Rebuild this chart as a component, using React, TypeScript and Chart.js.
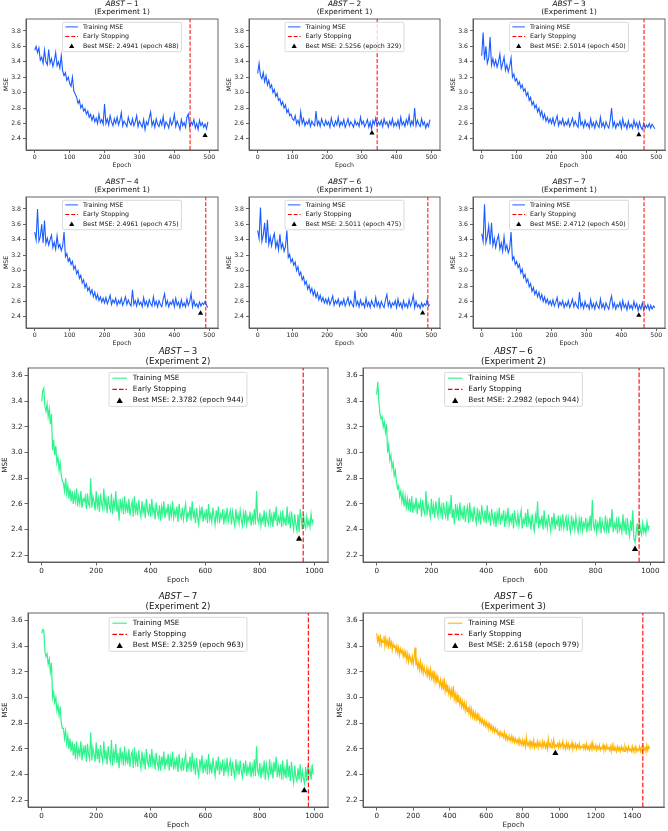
import React, { useEffect, useRef } from 'react';
import { Chart, registerables } from 'chart.js';

Chart.register(...registerables);

const FONT = '"DejaVu Sans", "Liberation Sans", sans-serif';
Chart.defaults.font.family = FONT;

// ---------- data ----------
const STEP_E1 = 4; // epochs between samples, Experiment 1 panels
const STEP_E2 = 4; // Experiment 2 panels
const STEP_E3 = 5; // Experiment 3 panel

const abst1Exp1 = [
  3.55, 3.6, 3.52, 3.58, 3.42, 3.46, 3.38, 3.55, 3.4, 3.36,
  3.56, 3.38, 3.44, 3.34, 3.41, 3.52, 3.35, 3.4, 3.32, 3.48,
  3.28, 3.22, 3.26, 3.16, 3.2, 3.12, 3.08, 3.2, 3.02, 2.98,
  2.94, 2.86, 2.9, 2.8, 2.84, 2.76, 2.79, 2.72, 2.76, 2.68,
  2.72, 2.64, 2.7, 2.62, 2.67, 2.6, 2.72, 2.61, 2.65, 2.59,
  2.85, 2.6, 2.66, 2.58, 2.7, 2.62, 2.57, 2.66, 2.6, 2.68,
  2.58, 2.64, 2.74, 2.57, 2.63, 2.6, 2.56, 2.68, 2.61, 2.58,
  2.66, 2.57, 2.62, 2.7, 2.56, 2.63, 2.59, 2.55, 2.65, 2.52,
  2.62, 2.58, 2.67, 2.75, 2.57, 2.63, 2.55, 2.66, 2.59, 2.56,
  2.64, 2.58, 2.69, 2.55, 2.62, 2.59, 2.54, 2.66, 2.58, 2.62,
  2.72, 2.56, 2.63, 2.58, 2.52, 2.65, 2.57, 2.61, 2.55, 2.68,
  2.72, 2.55, 2.62, 2.58, 2.65, 2.54, 2.6, 2.52, 2.64, 2.57,
  2.61, 2.55, 2.59, 2.53, 2.62,
];

const abst2Exp1 = [
  3.25, 3.38, 3.22, 3.18, 3.26, 3.14, 3.22, 3.1, 3.16, 3.06,
  3.1, 3.0, 3.04, 2.95, 2.99, 2.9, 2.92, 2.84, 2.88, 2.8,
  2.84, 2.74, 2.78, 2.7, 2.72, 2.66, 2.64, 2.7, 2.6, 2.64,
  2.58, 2.75, 2.6, 2.66, 2.57, 2.62, 2.59, 2.65, 2.56, 2.63,
  2.59, 2.57, 2.76, 2.58, 2.63, 2.56, 2.66, 2.6, 2.57, 2.64,
  2.58, 2.62, 2.55, 2.67, 2.59, 2.56, 2.63, 2.58, 2.68, 2.56,
  2.62, 2.58, 2.65, 2.55, 2.6, 2.66, 2.57, 2.62, 2.59, 2.55,
  2.64, 2.58, 2.61, 2.56, 2.68, 2.59, 2.63, 2.56, 2.6, 2.65,
  2.55, 2.62, 2.53, 2.64, 2.59, 2.67, 2.57, 2.62, 2.58, 2.64,
  2.56, 2.66, 2.59, 2.62, 2.55, 2.63, 2.58, 2.66, 2.56, 2.61,
  2.57, 2.64, 2.55, 2.68, 2.58, 2.62, 2.56, 2.65, 2.59, 2.7,
  2.57, 2.63, 2.58, 2.8, 2.57, 2.64, 2.59, 2.56, 2.66, 2.58,
  2.62, 2.54, 2.6, 2.56, 2.65,
];

const abst3Exp1 = [
  3.48, 3.78, 3.42, 3.6, 3.38, 3.45, 3.72, 3.36, 3.44, 3.35,
  3.42, 3.33, 3.4, 3.5, 3.31, 3.38, 3.46, 3.29, 3.36, 3.27,
  3.34, 3.45, 3.2, 3.24, 3.15, 3.18, 3.1, 3.14, 3.06, 3.1,
  3.02, 3.05, 2.96, 3.0, 2.9, 2.94, 2.84, 2.88, 2.8, 2.84,
  2.75, 2.8, 2.7, 2.76, 2.66, 2.72, 2.63, 2.68, 2.61, 2.66,
  2.6, 2.67, 2.58, 2.64, 2.7, 2.57, 2.63, 2.59, 2.66, 2.57,
  2.62, 2.58, 2.65, 2.56, 2.61, 2.67, 2.57, 2.63, 2.58, 2.55,
  2.75, 2.58, 2.62, 2.55, 2.64, 2.57, 2.6, 2.54, 2.66, 2.56,
  2.61, 2.54, 2.63, 2.58, 2.55, 2.68, 2.56, 2.61, 2.54, 2.62,
  2.57, 2.54, 2.64, 2.8, 2.56, 2.62, 2.54, 2.6, 2.57, 2.63,
  2.54, 2.66, 2.56, 2.6, 2.53, 2.63, 2.55, 2.59, 2.54, 2.64,
  2.56, 2.61, 2.53, 2.62, 2.55, 2.52, 2.6, 2.54, 2.58, 2.55,
  2.6, 2.54, 2.59, 2.56, 2.53,
];

const abst4Exp1 = [
  3.5, 3.4, 3.8, 3.38, 3.44, 3.6, 3.36, 3.65, 3.35, 3.42,
  3.33, 3.4, 3.46, 3.3, 3.37, 3.28, 3.45, 3.3, 3.34, 3.26,
  3.32, 3.5, 3.18, 3.22, 3.12, 3.16, 3.08, 3.12, 3.02, 3.06,
  2.96, 3.0, 2.9, 2.94, 2.84, 2.88, 2.78, 2.83, 2.74, 2.78,
  2.7, 2.75, 2.66, 2.72, 2.63, 2.69, 2.61, 2.66, 2.59, 2.64,
  2.58, 2.65, 2.57, 2.62, 2.68, 2.56, 2.62, 2.58, 2.64, 2.55,
  2.61, 2.57, 2.64, 2.55, 2.6, 2.66, 2.56, 2.62, 2.57, 2.54,
  2.75, 2.56, 2.61, 2.54, 2.63, 2.56, 2.59, 2.53, 2.65, 2.55,
  2.6, 2.53, 2.62, 2.57, 2.54, 2.66, 2.55, 2.6, 2.53, 2.61,
  2.56, 2.53, 2.63, 2.7, 2.55, 2.61, 2.53, 2.59, 2.56, 2.62,
  2.53, 2.64, 2.55, 2.59, 2.52, 2.62, 2.54, 2.58, 2.53, 2.63,
  2.55, 2.6, 2.7, 2.53, 2.61, 2.54, 2.57, 2.52, 2.59, 2.54,
  2.58, 2.56, 2.6, 2.55, 2.52,
];

const abst6Exp1 = [
  3.52, 3.42, 3.82, 3.38, 3.46, 3.62, 3.36, 3.66, 3.34, 3.44,
  3.32, 3.42, 3.48, 3.3, 3.38, 3.27, 3.47, 3.29, 3.35, 3.25,
  3.31, 3.52, 3.17, 3.21, 3.11, 3.15, 3.07, 3.11, 3.0, 3.05,
  2.94, 2.98, 2.88, 2.92, 2.82, 2.86, 2.76, 2.81, 2.72, 2.77,
  2.68, 2.74, 2.65, 2.71, 2.62, 2.68, 2.6, 2.65, 2.58, 2.63,
  2.57, 2.64, 2.56, 2.61, 2.67, 2.55, 2.61, 2.57, 2.63, 2.54,
  2.6, 2.56, 2.63, 2.54, 2.59, 2.65, 2.55, 2.61, 2.56, 2.53,
  2.74, 2.55, 2.6, 2.53, 2.62, 2.55, 2.58, 2.52, 2.64, 2.54,
  2.59, 2.52, 2.61, 2.56, 2.53, 2.65, 2.54, 2.59, 2.52, 2.6,
  2.55, 2.52, 2.62, 2.69, 2.54, 2.6, 2.52, 2.58, 2.55, 2.61,
  2.52, 2.63, 2.54, 2.58, 2.51, 2.61, 2.53, 2.57, 2.52, 2.62,
  2.54, 2.59, 2.68, 2.52, 2.6, 2.53, 2.56, 2.51, 2.58, 2.53,
  2.57, 2.55, 2.62, 2.54, 2.56,
];

const abst7Exp1 = [
  3.48, 3.38, 3.86, 3.36, 3.44, 3.58, 3.34, 3.62, 3.33, 3.42,
  3.3, 3.4, 3.46, 3.28, 3.36, 3.25, 3.44, 3.27, 3.33, 3.23,
  3.29, 3.5, 3.14, 3.18, 3.08, 3.12, 3.04, 3.08, 2.97, 3.02,
  2.91, 2.95, 2.85, 2.89, 2.79, 2.83, 2.73, 2.78, 2.69, 2.74,
  2.66, 2.72, 2.63, 2.69, 2.6, 2.66, 2.58, 2.63, 2.56, 2.61,
  2.55, 2.62, 2.54, 2.59, 2.65, 2.53, 2.59, 2.55, 2.61, 2.52,
  2.58, 2.54, 2.61, 2.52, 2.57, 2.63, 2.53, 2.59, 2.54, 2.51,
  2.72, 2.53, 2.58, 2.51, 2.6, 2.53, 2.56, 2.5, 2.62, 2.52,
  2.57, 2.5, 2.59, 2.54, 2.51, 2.63, 2.52, 2.57, 2.5, 2.58,
  2.53, 2.5, 2.6, 2.67, 2.52, 2.58, 2.5, 2.56, 2.53, 2.59,
  2.5, 2.61, 2.52, 2.56, 2.49, 2.59, 2.51, 2.55, 2.5, 2.6,
  2.52, 2.57, 2.48, 2.55, 2.5, 2.58, 2.49, 2.55, 2.51, 2.56,
  2.49, 2.55, 2.5, 2.54, 2.52,
];

const abst3Exp2 = [
  3.4, 3.48, 3.5, 3.36, 3.32, 3.38, 3.28, 3.34, 3.22, 3.3,
  3.02, 3.1, 2.98, 3.05, 2.92, 2.96, 2.86, 2.92, 2.82, 2.78,
  2.76, 2.7, 2.8, 2.68, 2.74, 2.64, 2.72, 2.62, 2.7, 2.6,
  2.68, 2.62, 2.72, 2.58, 2.66, 2.6, 2.7, 2.57, 2.64, 2.62,
  2.66, 2.56, 2.68, 2.6, 2.58, 2.8, 2.57, 2.66, 2.62, 2.55,
  2.7, 2.58, 2.64, 2.54, 2.68, 2.6, 2.56, 2.72, 2.58, 2.64,
  2.53, 2.66, 2.59, 2.55, 2.68, 2.52, 2.62, 2.57, 2.7, 2.54,
  2.6, 2.47, 2.64, 2.56, 2.62, 2.52, 2.66, 2.55, 2.6, 2.53,
  2.64, 2.51, 2.58, 2.62, 2.5, 2.66, 2.54, 2.59, 2.51, 2.63,
  2.55, 2.5, 2.62, 2.53, 2.58, 2.49, 2.64, 2.55, 2.52, 2.6,
  2.5, 2.64, 2.53, 2.57, 2.48, 2.61, 2.54, 2.5, 2.59, 2.47,
  2.58, 2.52, 2.62, 2.49, 2.56, 2.53, 2.6, 2.47, 2.57, 2.51,
  2.62, 2.49, 2.55, 2.51, 2.58, 2.46, 2.6, 2.52, 2.49, 2.57,
  2.48, 2.55, 2.6, 2.46, 2.53, 2.5, 2.58, 2.47, 2.62, 2.5,
  2.54, 2.45, 2.57, 2.49, 2.44, 2.56, 2.5, 2.58, 2.46, 2.53,
  2.49, 2.56, 2.45, 2.6, 2.48, 2.52, 2.46, 2.57, 2.5, 2.44,
  2.55, 2.48, 2.58, 2.45, 2.52, 2.49, 2.56, 2.44, 2.53, 2.47,
  2.57, 2.46, 2.51, 2.55, 2.44, 2.54, 2.48, 2.43, 2.56, 2.47,
  2.52, 2.45, 2.55, 2.48, 2.43, 2.53, 2.46, 2.55, 2.44, 2.5,
  2.47, 2.54, 2.43, 2.51, 2.46, 2.56, 2.44, 2.7, 2.48, 2.45,
  2.53, 2.43, 2.5, 2.46, 2.55, 2.42, 2.52, 2.47, 2.44, 2.56,
  2.45, 2.51, 2.42, 2.54, 2.47, 2.58, 2.43, 2.5, 2.46, 2.52,
  2.42, 2.55, 2.45, 2.49, 2.43, 2.58, 2.44, 2.51, 2.41, 2.54,
  2.46, 2.4, 2.52, 2.44, 2.39, 2.52, 2.38, 2.56, 2.49, 2.4,
  2.52, 2.44, 2.41, 2.5, 2.43, 2.47, 2.42, 2.52, 2.45, 2.48,
];

const abst6Exp2 = [
  3.45, 3.55, 3.4, 3.3, 3.26, 3.28, 3.2, 3.24, 3.16, 3.22,
  3.0, 3.06, 2.94, 2.98, 2.88, 2.92, 2.82, 2.86, 2.78, 2.72,
  2.74, 2.66, 2.7, 2.62, 2.68, 2.58, 2.66, 2.57, 2.64, 2.55,
  2.64, 2.54, 2.66, 2.53, 2.6, 2.56, 2.65, 2.52, 2.6, 2.57,
  2.62, 2.5, 2.63, 2.55, 2.52, 2.7, 2.51, 2.6, 2.56, 2.5,
  2.64, 2.52, 2.59, 2.49, 2.62, 2.55, 2.5, 2.65, 2.52, 2.58,
  2.48, 2.61, 2.54, 2.5, 2.62, 2.47, 2.58, 2.52, 2.67, 2.49,
  2.56, 2.44, 2.6, 2.51, 2.57, 2.47, 2.61, 2.5, 2.55, 2.48,
  2.59, 2.46, 2.54, 2.58, 2.45, 2.61, 2.49, 2.54, 2.46, 2.58,
  2.5, 2.45, 2.57, 2.48, 2.53, 2.44, 2.59, 2.5, 2.47, 2.55,
  2.45, 2.59, 2.48, 2.52, 2.43, 2.56, 2.49, 2.45, 2.54, 2.42,
  2.53, 2.47, 2.57, 2.44, 2.51, 2.48, 2.55, 2.42, 2.52, 2.46,
  2.57, 2.44, 2.5, 2.46, 2.53, 2.41, 2.55, 2.47, 2.44, 2.52,
  2.43, 2.5, 2.55, 2.41, 2.48, 2.45, 2.53, 2.42, 2.56, 2.45,
  2.49, 2.4, 2.52, 2.44, 2.39, 2.51, 2.45, 2.62, 2.41, 2.48,
  2.44, 2.51, 2.4, 2.55, 2.43, 2.47, 2.41, 2.52, 2.45, 2.39,
  2.5, 2.43, 2.53, 2.4, 2.47, 2.44, 2.51, 2.39, 2.48, 2.42,
  2.52, 2.41, 2.46, 2.5, 2.39, 2.49, 2.43, 2.38, 2.51, 2.42,
  2.47, 2.4, 2.5, 2.43, 2.38, 2.48, 2.41, 2.5, 2.39, 2.45,
  2.42, 2.49, 2.38, 2.46, 2.41, 2.51, 2.39, 2.63, 2.43, 2.4,
  2.48, 2.38, 2.45, 2.41, 2.5, 2.37, 2.47, 2.42, 2.39, 2.51,
  2.4, 2.46, 2.37, 2.49, 2.42, 2.56, 2.38, 2.45, 2.41, 2.47,
  2.37, 2.5, 2.4, 2.44, 2.38, 2.52, 2.39, 2.46, 2.36, 2.49,
  2.41, 2.35, 2.47, 2.39, 2.55, 2.33, 2.3, 2.37, 2.45, 2.35,
  2.47, 2.39, 2.36, 2.45, 2.38, 2.42, 2.37, 2.46, 2.4, 2.43,
];

const abst7Exp2 = [
  3.5, 3.53, 3.52, 3.36, 3.32, 3.34, 3.26, 3.3, 3.2, 3.27,
  3.0, 3.04, 2.96, 3.0, 2.9, 2.94, 2.86, 2.93, 2.8, 2.76,
  2.76, 2.68, 2.74, 2.64, 2.7, 2.6, 2.68, 2.58, 2.66, 2.55,
  2.64, 2.52, 2.66, 2.54, 2.6, 2.55, 2.66, 2.51, 2.61, 2.56,
  2.63, 2.5, 2.64, 2.56, 2.52, 2.73, 2.51, 2.61, 2.56, 2.5,
  2.65, 2.52, 2.6, 2.49, 2.63, 2.55, 2.5, 2.66, 2.52, 2.59,
  2.48, 2.62, 2.54, 2.5, 2.67, 2.47, 2.58, 2.52, 2.64, 2.49,
  2.57, 2.45, 2.61, 2.51, 2.58, 2.47, 2.62, 2.5, 2.56, 2.48,
  2.6, 2.46, 2.55, 2.58, 2.45, 2.61, 2.49, 2.55, 2.46, 2.59,
  2.51, 2.45, 2.58, 2.48, 2.54, 2.44, 2.6, 2.5, 2.47, 2.56,
  2.46, 2.6, 2.48, 2.53, 2.44, 2.57, 2.49, 2.45, 2.55, 2.43,
  2.54, 2.47, 2.58, 2.44, 2.52, 2.48, 2.56, 2.43, 2.53, 2.46,
  2.58, 2.44, 2.51, 2.46, 2.54, 2.42, 2.56, 2.47, 2.44, 2.53,
  2.43, 2.51, 2.56, 2.42, 2.49, 2.45, 2.54, 2.42, 2.57, 2.45,
  2.5, 2.4, 2.53, 2.44, 2.39, 2.52, 2.45, 2.55, 2.41, 2.49,
  2.44, 2.52, 2.4, 2.56, 2.43, 2.48, 2.41, 2.53, 2.45, 2.39,
  2.51, 2.43, 2.54, 2.4, 2.48, 2.44, 2.52, 2.39, 2.49, 2.42,
  2.53, 2.41, 2.47, 2.51, 2.39, 2.5, 2.43, 2.38, 2.52, 2.42,
  2.48, 2.4, 2.51, 2.43, 2.38, 2.49, 2.41, 2.51, 2.39, 2.46,
  2.42, 2.5, 2.38, 2.47, 2.41, 2.52, 2.39, 2.62, 2.43, 2.4,
  2.49, 2.37, 2.46, 2.41, 2.51, 2.36, 2.48, 2.42, 2.38, 2.52,
  2.4, 2.47, 2.37, 2.5, 2.42, 2.54, 2.38, 2.46, 2.4, 2.48,
  2.36, 2.51, 2.39, 2.45, 2.37, 2.52, 2.38, 2.47, 2.35, 2.5,
  2.4, 2.34, 2.47, 2.38, 2.35, 2.45, 2.36, 2.48, 2.34, 2.43,
  2.37, 2.33, 2.46, 2.35, 2.47, 2.39, 2.44, 2.36, 2.48, 2.4,
];

const abst6Exp3 = [
  3.5, 3.44, 3.47, 3.42, 3.49, 3.41, 3.45, 3.43, 3.48, 3.4,
  3.46, 3.41, 3.44, 3.38, 3.47, 3.4, 3.43, 3.37, 3.42, 3.39,
  3.41, 3.36, 3.4, 3.35, 3.39, 3.33, 3.38, 3.35, 3.37, 3.32,
  3.36, 3.31, 3.35, 3.29, 3.34, 3.28, 3.33, 3.3, 3.27, 3.32,
  3.26, 3.31, 3.39, 3.25, 3.29, 3.23, 3.27, 3.22, 3.28, 3.21,
  3.25, 3.19, 3.24, 3.2, 3.18, 3.23, 3.17, 3.21, 3.16, 3.22,
  3.15, 3.19, 3.14, 3.21, 3.12, 3.17, 3.11, 3.16, 3.13, 3.09,
  3.14, 3.08, 3.12, 3.06, 3.15, 3.05, 3.1, 3.04, 3.08, 3.03,
  3.07, 3.01, 3.06, 3.0, 3.09, 2.99, 3.03, 2.97, 3.02, 2.96,
  3.0, 2.95, 2.99, 2.93, 2.97, 2.92, 2.96, 2.9, 2.95, 2.89,
  2.93, 2.88, 2.92, 2.86, 2.91, 2.85, 2.89, 2.84, 2.88, 2.83,
  2.87, 2.82, 2.86, 2.81, 2.84, 2.8, 2.83, 2.79, 2.82, 2.78,
  2.81, 2.77, 2.8, 2.76, 2.79, 2.75, 2.78, 2.74, 2.77, 2.73,
  2.76, 2.73, 2.75, 2.71, 2.74, 2.7, 2.73, 2.7, 2.72, 2.69,
  2.73, 2.68, 2.71, 2.67, 2.7, 2.67, 2.69, 2.66, 2.7, 2.66,
  2.69, 2.65, 2.68, 2.65, 2.67, 2.64, 2.68, 2.64, 2.66, 2.63,
  2.67, 2.63, 2.66, 2.62, 2.69, 2.63, 2.65, 2.62, 2.66, 2.62,
  2.65, 2.62, 2.67, 2.61, 2.64, 2.62, 2.66, 2.61, 2.65, 2.62,
  2.64, 2.61, 2.66, 2.62, 2.65, 2.61, 2.64, 2.6, 2.68, 2.62,
  2.64, 2.61, 2.65, 2.62, 2.67, 2.61, 2.63, 2.62, 2.64, 2.61,
  2.65, 2.61, 2.64, 2.62, 2.66, 2.61, 2.63, 2.6, 2.65, 2.61,
  2.64, 2.6, 2.63, 2.61, 2.65, 2.6, 2.63, 2.61, 2.64, 2.6,
  2.63, 2.61, 2.64, 2.6, 2.62, 2.61, 2.64, 2.6, 2.63, 2.6,
  2.64, 2.6, 2.62, 2.59, 2.63, 2.6, 2.65, 2.6, 2.62, 2.6,
  2.63, 2.59, 2.62, 2.6, 2.63, 2.59, 2.61, 2.6, 2.63, 2.59,
  2.62, 2.59, 2.63, 2.6, 2.61, 2.59, 2.62, 2.58, 2.63, 2.59,
  2.62, 2.59, 2.61, 2.58, 2.62, 2.59, 2.61, 2.58, 2.62, 2.59,
  2.61, 2.58, 2.62, 2.59, 2.61, 2.58, 2.62, 2.59, 2.6, 2.58,
  2.62, 2.58, 2.61, 2.59, 2.62, 2.58, 2.6, 2.59, 2.62, 2.58,
  2.61, 2.58, 2.62, 2.59, 2.61, 2.58, 2.63, 2.59, 2.62, 2.6,
];

const xTicks500 = [0, 100, 200, 300, 400, 500];
const xTicks1000 = [0, 200, 400, 600, 800, 1000];
const xTicks1400 = [0, 200, 400, 600, 800, 1000, 1200, 1400];
const yTicksSmall = [2.4, 2.6, 2.8, 3.0, 3.2, 3.4, 3.6, 3.8];
const yTicksBig = [2.2, 2.4, 2.6, 2.8, 3.0, 3.2, 3.4, 3.6];

const BLUE = '#1a5cff';
const GREEN = '#2ef28c';
const ORANGE = '#ffb405';

type Panel = {
  name: string;
  suffix: string;
  exp: string;
  values: number[];
  step: number;
  color: string;
  best: number;
  bestMse: number;
  stop: number;
  xMin: number;
  xMax: number;
  xTicks: number[];
  yMin: number;
  yMax: number;
  yTicks: number[];
  box: [number, number, number, number];
  big: boolean;
};

const panels: Panel[] = [
  { name: 'ABST', suffix: '\u2009\u2212\u20091', exp: '(Experiment 1)', values: abst1Exp1, step: STEP_E1, color: BLUE, best: 488, bestMse: 2.4941, stop: 445, xMin: -25, xMax: 525, xTicks: xTicks500, yMin: 2.255, yMax: 3.955, yTicks: yTicksSmall, box: [26, 19, 218, 150], big: false },
  { name: 'ABST', suffix: '\u2009\u2212\u20092', exp: '(Experiment 1)', values: abst2Exp1, step: STEP_E1, color: BLUE, best: 329, bestMse: 2.5256, stop: 344, xMin: -25, xMax: 525, xTicks: xTicks500, yMin: 2.255, yMax: 3.955, yTicks: yTicksSmall, box: [249, 19, 440, 150], big: false },
  { name: 'ABST', suffix: '\u2009\u2212\u20093', exp: '(Experiment 1)', values: abst3Exp1, step: STEP_E1, color: BLUE, best: 450, bestMse: 2.5014, stop: 465, xMin: -25, xMax: 525, xTicks: xTicks500, yMin: 2.255, yMax: 3.955, yTicks: yTicksSmall, box: [473, 19, 665, 150], big: false },
  { name: 'ABST', suffix: '\u2009\u2212\u20094', exp: '(Experiment 1)', values: abst4Exp1, step: STEP_E1, color: BLUE, best: 475, bestMse: 2.4961, stop: 490, xMin: -25, xMax: 525, xTicks: xTicks500, yMin: 2.255, yMax: 3.955, yTicks: yTicksSmall, box: [26, 197, 218, 328], big: false },
  { name: 'ABST', suffix: '\u2009\u2212\u20096', exp: '(Experiment 1)', values: abst6Exp1, step: STEP_E1, color: BLUE, best: 475, bestMse: 2.5011, stop: 490, xMin: -25, xMax: 525, xTicks: xTicks500, yMin: 2.255, yMax: 3.955, yTicks: yTicksSmall, box: [249, 197, 440, 328], big: false },
  { name: 'ABST', suffix: '\u2009\u2212\u20097', exp: '(Experiment 1)', values: abst7Exp1, step: STEP_E1, color: BLUE, best: 450, bestMse: 2.4712, stop: 465, xMin: -25, xMax: 525, xTicks: xTicks500, yMin: 2.255, yMax: 3.955, yTicks: yTicksSmall, box: [473, 197, 665, 328], big: false },
  { name: 'ABST', suffix: '\u2009\u2212\u20093', exp: '(Experiment 2)', values: abst3Exp2, step: STEP_E2, color: GREEN, best: 944, bestMse: 2.3782, stop: 959, xMin: -50, xMax: 1050, xTicks: xTicks1000, yMin: 2.148, yMax: 3.658, yTicks: yTicksBig, box: [28, 368, 328, 562], big: true },
  { name: 'ABST', suffix: '\u2009\u2212\u20096', exp: '(Experiment 2)', values: abst6Exp2, step: STEP_E2, color: GREEN, best: 944, bestMse: 2.2982, stop: 959, xMin: -50, xMax: 1050, xTicks: xTicks1000, yMin: 2.148, yMax: 3.658, yTicks: yTicksBig, box: [363, 368, 664, 562], big: true },
  { name: 'ABST', suffix: '\u2009\u2212\u20097', exp: '(Experiment 2)', values: abst7Exp2, step: STEP_E2, color: GREEN, best: 963, bestMse: 2.3259, stop: 978, xMin: -50, xMax: 1050, xTicks: xTicks1000, yMin: 2.148, yMax: 3.658, yTicks: yTicksBig, box: [28, 613, 328, 807], big: true },
  { name: 'ABST', suffix: '\u2009\u2212\u20096', exp: '(Experiment 3)', values: abst6Exp3, step: STEP_E3, color: ORANGE, best: 979, bestMse: 2.6158, stop: 1458, xMin: -75, xMax: 1574, xTicks: xTicks1400, yMin: 2.148, yMax: 3.658, yTicks: yTicksBig, box: [363, 613, 664, 807], big: true },
];

type Style = {
  tf: number; f: number; lf: number; t1: number; t2: number;
  padL: number; padT: number; padR: number; padB: number;
  tick: number; mr: number; lw: number; llw: number;
  legTop: number; legBot: number; legFirst: number; legRow: number;
  yTitlePad: number; xTitlePad: number; dash: number[];
};

const SMALL: Style = {
  tf: 7.4, f: 6.2, lf: 6.3, t1: -14.5, t2: -6.5, padL: 24, padT: 22, padR: 3, padB: 20,
  tick: 3, mr: 3, lw: 1.1, llw: 1, legTop: 3.3, legBot: 32.7, legFirst: 7.9, legRow: 9.6,
  yTitlePad: 0.3, xTitlePad: 0.8, dash: [4, 1.8],
};
const BIG: Style = {
  tf: 8.65, f: 7.2, lf: 7.3, t1: -16, t2: -6, padL: 27, padT: 22, padR: 3, padB: 23,
  tick: 3.5, mr: 3.6, lw: 1.2, llw: 1.1, legTop: 4.4, legBot: 38.4, legFirst: 10.2, legRow: 11.2,
  yTitlePad: 0, xTitlePad: 0.7, dash: [4.6, 2],
};

const drawTriangle = (ctx: CanvasRenderingContext2D, x: number, y: number, r: number) => {
  ctx.beginPath();
  for (let i = 0; i < 3; i++) {
    const a = (i * 2 * Math.PI) / 3;
    const px = x + Math.sin(a) * r;
    const py = y - Math.cos(a) * r;
    if (i === 0) ctx.moveTo(px, py);
    else ctx.lineTo(px, py);
  }
  ctx.closePath();
  ctx.fill();
};

const decorPlugin = {
  id: 'decor',
  afterDraw(chart: any, _args: any, o: any) {
    const { ctx, chartArea: a } = chart;
    const s: Style = o.style;
    ctx.save();
    // frame
    ctx.strokeStyle = '#555';
    ctx.lineWidth = 0.9;
    ctx.strokeRect(a.left, a.top, a.right - a.left, a.bottom - a.top);

    // title
    const cx = (a.left + a.right) / 2;
    ctx.fillStyle = '#111';
    ctx.textBaseline = 'middle';
    ctx.font = `italic ${s.tf}px ${FONT}`;
    const w1 = ctx.measureText(o.name).width;
    ctx.font = `${s.tf}px ${FONT}`;
    const w2 = ctx.measureText(o.suffix).width;
    const x0 = cx - (w1 + w2) / 2;
    ctx.textAlign = 'left';
    ctx.font = `italic ${s.tf}px ${FONT}`;
    ctx.fillText(o.name, x0, a.top + s.t1);
    ctx.font = `${s.tf}px ${FONT}`;
    ctx.fillText(o.suffix, x0 + w1, a.top + s.t1);
    ctx.textAlign = 'center';
    ctx.fillText(o.exp, cx, a.top + s.t2);

    // legend
    ctx.font = `${s.lf}px ${FONT}`;
    const texts = ['Training MSE', 'Early Stopping', `Best MSE: ${o.bestMse.toFixed(4)} (epoch ${o.best})`];
    const tw = Math.max(...texts.map((t) => ctx.measureText(t).width));
    const pad = 0.45 * s.lf;
    const hl = 2 * s.lf;
    const hp = 0.8 * s.lf;
    const bw = 2 * pad + hl + hp + tw;
    const bx = cx - bw / 2;
    const by = a.top + s.legTop;
    const bh = s.legBot - s.legTop;
    ctx.beginPath();
    ctx.roundRect(bx, by, bw, bh, 1.5);
    ctx.fillStyle = 'rgba(255,255,255,0.8)';
    ctx.fill();
    ctx.strokeStyle = 'rgba(204,204,204,0.9)';
    ctx.lineWidth = 0.8;
    ctx.stroke();
    const hx = bx + pad;
    for (let i = 0; i < 3; i++) {
      const y = a.top + s.legFirst + i * s.legRow;
      if (i === 0) {
        ctx.strokeStyle = o.color;
        ctx.lineWidth = s.llw;
        ctx.setLineDash([]);
        ctx.beginPath();
        ctx.moveTo(hx, y);
        ctx.lineTo(hx + hl, y);
        ctx.stroke();
      } else if (i === 1) {
        ctx.strokeStyle = 'red';
        ctx.lineWidth = s.llw;
        ctx.setLineDash(s.dash);
        ctx.beginPath();
        ctx.moveTo(hx, y);
        ctx.lineTo(hx + hl, y);
        ctx.stroke();
        ctx.setLineDash([]);
      } else {
        ctx.fillStyle = '#000';
        drawTriangle(ctx, hx + hl / 2, y + 0.5, s.mr);
      }
      ctx.fillStyle = '#111';
      ctx.textAlign = 'left';
      ctx.textBaseline = 'middle';
      ctx.fillText(texts[i], hx + hl + hp, y);
    }
    ctx.restore();
  },
};

function PanelChart({ p }: { p: Panel }) {
  const ref = useRef<HTMLCanvasElement>(null);
  const s = p.big ? BIG : SMALL;
  const [L, T, R, B] = p.box;
  const w = R - L + s.padL + s.padR;
  const h = B - T + s.padT + s.padB;

  useEffect(() => {
    if (!ref.current) return;
    const line = p.values.map((v, i) => ({ x: i * p.step, y: v }));
    const tickFont = { family: FONT, size: s.f };
    const chart = new Chart(ref.current, {
      type: 'line',
      data: {
        datasets: [
          { data: line, borderColor: p.color, borderWidth: s.lw, pointRadius: 0, tension: 0, order: 3 } as any,
          {
            data: [{ x: p.stop, y: p.yMin }, { x: p.stop, y: p.yMax }],
            borderColor: 'red', borderWidth: s.llw, borderDash: s.dash, pointRadius: 0, order: 2,
          } as any,
          {
            data: [{ x: p.best, y: p.bestMse - 0.05 }],
            showLine: false, pointStyle: 'triangle', pointRadius: s.mr, pointBackgroundColor: '#000',
            pointBorderWidth: 0, borderColor: '#000', order: 1,
          } as any,
        ],
      },
      options: {
        animation: false,
        responsive: false,
        devicePixelRatio: 1,
        events: [],
        layout: { autoPadding: false, padding: { left: 0, top: s.padT, right: s.padR, bottom: 0 } },
        plugins: {
          legend: { display: false },
          tooltip: { enabled: false },
          decor: {
            style: s, name: p.name, suffix: p.suffix, exp: p.exp, color: p.color, best: p.best, bestMse: p.bestMse,
          },
        } as any,
        scales: {
          x: {
            type: 'linear',
            min: p.xMin,
            max: p.xMax,
            bounds: 'data',
            afterBuildTicks: (sc: any) => { sc.ticks = p.xTicks.map((v) => ({ value: v })); },
            afterFit: (sc: any) => { sc.height = s.padB; },
            ticks: { font: tickFont, color: '#222', padding: 1, maxRotation: 0, autoSkip: false, callback: (v: any) => String(v) },
            grid: { display: true, drawOnChartArea: false, drawTicks: true, tickLength: s.tick, color: '#555', lineWidth: 0.9 },
            border: { display: true, color: '#555', width: 0.9 },
            title: { display: true, text: 'Epoch', font: tickFont, color: '#222', padding: { top: 0, bottom: s.xTitlePad } },
          },
          y: {
            type: 'linear',
            min: p.yMin,
            max: p.yMax,
            bounds: 'data',
            afterBuildTicks: (sc: any) => { sc.ticks = p.yTicks.map((v) => ({ value: v })); },
            afterFit: (sc: any) => { sc.width = s.padL; },
            ticks: { font: tickFont, color: '#222', padding: 2, autoSkip: false, callback: (v: any) => Number(v).toFixed(1) },
            grid: { display: true, drawOnChartArea: false, drawTicks: true, tickLength: s.tick, color: '#555', lineWidth: 0.9 },
            border: { display: true, color: '#555', width: 0.9 },
            title: { display: true, text: 'MSE', font: tickFont, color: '#222', padding: { top: s.yTitlePad, bottom: 0 } },
          },
        },
      } as any,
      plugins: [decorPlugin],
    });
    return () => chart.destroy();
  }, [p]);

  return (
    <canvas
      ref={ref}
      width={w}
      height={h}
      style={{ position: 'absolute', left: L - s.padL, top: T - s.padT, width: w, height: h }}
    />
  );
}

export default function App() {
  return (
    <div style={{ position: 'absolute', left: 0, top: 0, width: 668, height: 831, background: '#fff', overflow: 'hidden' }}>
      {panels.map((p, i) => (
        <PanelChart key={i} p={p} />
      ))}
    </div>
  );
}
